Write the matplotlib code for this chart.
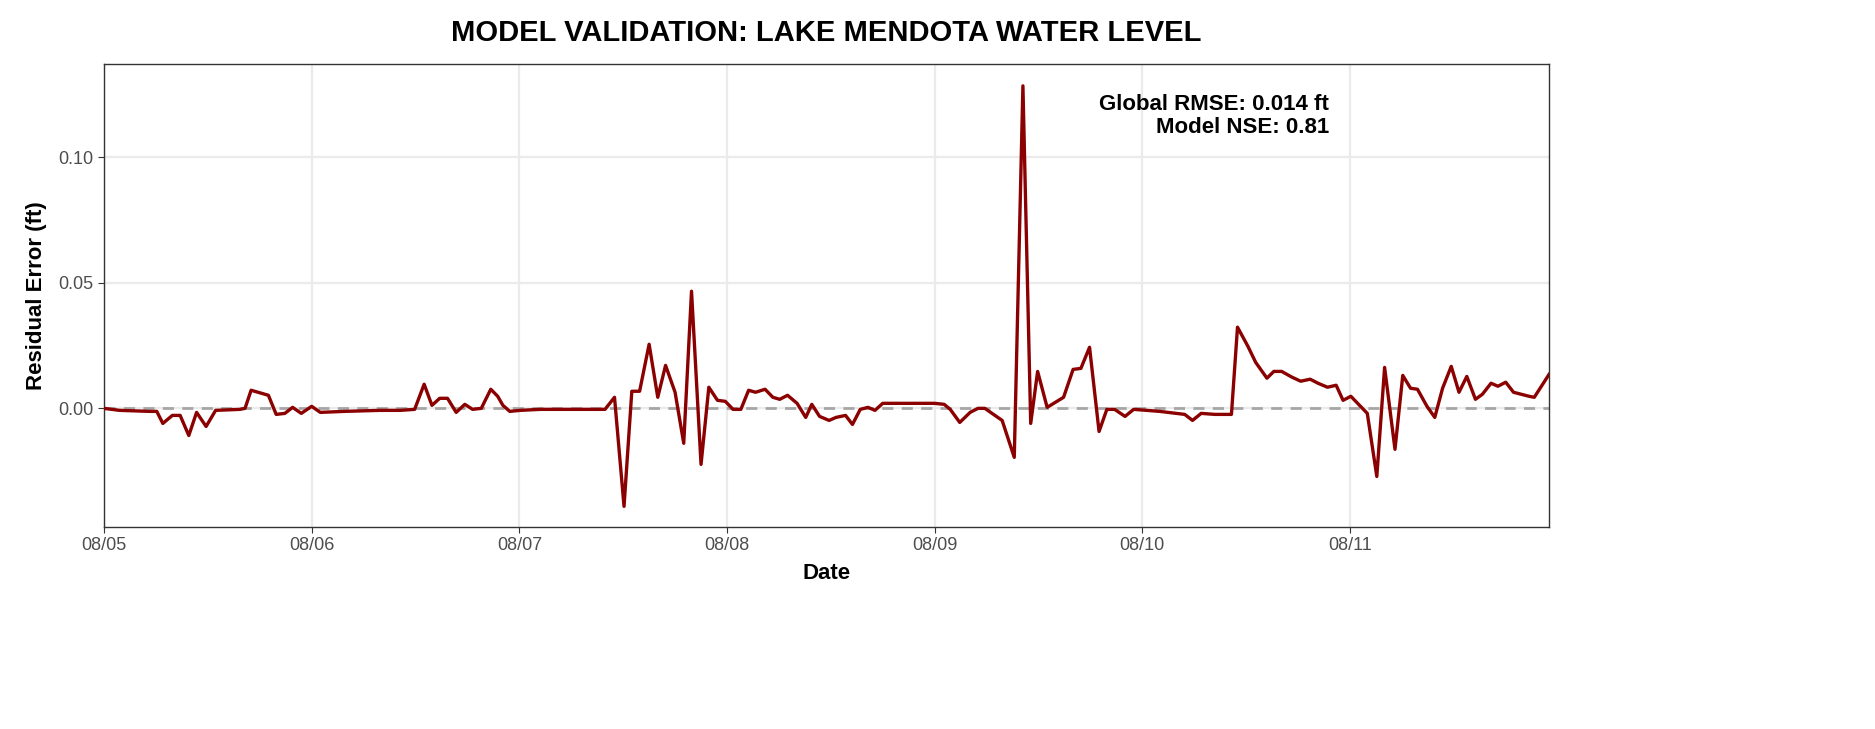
import matplotlib
matplotlib.use("Agg")
import matplotlib.pyplot as plt
import matplotlib.dates as mdates
import numpy as np
import pandas as pd

plt.rcParams['font.family'] = ['Liberation Sans', 'DejaVu Sans']

hours = [0,1.8,5.3,6.1,6.8,7.9,8.8,9.8,10.7,11.8,12.9,15.7,16.3,17.0,19.0,19.9,20.9,21.8,22.8,24.0,
25.0,27.8,31.9,34.2,35.9,37.0,37.9,38.8,39.7,40.7,41.7,42.6,43.6,44.7,45.5,46.1,46.9,48.1,50.4,55.0,
57.9,59.0,60.1,61.0,61.9,63.0,64.0,64.9,66.0,67.0,67.9,69.0,69.9,70.9,71.8,72.7,73.6,74.5,75.3,76.4,
77.3,78.1,79.0,80.1,81.1,81.8,82.7,83.8,84.6,85.7,86.5,87.4,88.3,89.1,90.0,90.9,92.0,93.1,94.9,96.0,
97.1,97.8,98.9,100.1,101.0,101.8,103.8,105.2,106.2,107.1,107.9,109.0,110.9,112.0,112.9,113.9,115.0,115.9,116.8,118.0,
119.0,122.0,124.9,125.8,126.8,128.4,130.3,131.0,132.2,133.1,134.4,135.2,136.1,137.3,138.3,139.4,140.3,141.4,142.4,143.2,
144.1,145.0,146.0,147.1,148.0,149.2,150.1,151.0,151.8,152.9,153.8,154.7,155.7,156.6,157.5,158.5,159.3,160.3,161.1,162.0,
162.9,164.7,165.3,167.0]
residual = [0,-0.0008,-0.0012,-0.0012,-0.006,-0.0028,-0.0028,-0.0108,-0.0016,-0.0072,-0.0008,-0.0004,0,0.0072,0.0052,-0.0024,-0.002,0.0004,-0.002,0.0008,
-0.0016,-0.0012,-0.0008,-0.0008,-0.0004,0.0096,0.0012,0.004,0.004,-0.0016,0.0016,-0.0004,0,0.0076,0.0048,0.0012,-0.0012,-0.0008,-0.0004,-0.0004,
-0.0004,0.0044,-0.039,0.0068,0.0068,0.0255,0.0044,0.0171,0.0064,-0.0139,0.0466,-0.0223,0.0084,0.0032,0.0028,-0.0004,-0.0004,0.0072,0.0064,0.0076,
0.0044,0.0036,0.0052,0.002,-0.0036,0.0016,-0.0032,-0.0048,-0.0036,-0.0028,-0.0064,-0.0004,0.0004,-0.0008,0.002,0.002,0.002,0.002,0.002,0.002,
0.0016,-0.0004,-0.0056,-0.0016,0,0,-0.0048,-0.0195,0.1283,-0.006,0.0147,0.0004,0.0044,0.0155,0.0159,0.0243,-0.0092,-0.0004,-0.0004,-0.0032,
-0.0004,-0.0012,-0.0024,-0.0048,-0.002,-0.0024,-0.0024,0.0323,0.0247,0.0183,0.012,0.0147,0.0147,0.0124,0.0108,0.0116,0.01,0.0084,0.0092,0.0032,
0.0048,0.0016,-0.002,-0.0271,0.0163,-0.0163,0.0131,0.008,0.0076,0.0008,-0.0036,0.008,0.0167,0.0064,0.0127,0.0036,0.0056,0.01,0.0088,0.0104,
0.0064,0.0048,0.0044,0.0135]

start = pd.Timestamp("2024-08-05")
t = start + pd.to_timedelta(hours, unit="h")

fig = plt.figure(figsize=(18.75, 7.29), dpi=100)
ax = fig.add_axes([104/1875, 1-527/729, (1549-104)/1875, (527-64)/729])
ax.plot(t, residual, color="#8B0000", lw=2.4, zorder=3)
ax.axhline(0, color="#A6A6A6", lw=2, ls=(0, (4, 3)), zorder=2)
ax.set_xlim(t[0], t[-1])
ax.set_ylim(-0.0472, 0.137)
ax.set_yticks([0.0, 0.05, 0.10])
ax.set_yticklabels(["0.00", "0.05", "0.10"])
ax.xaxis.set_major_locator(mdates.DayLocator())
ax.xaxis.set_major_formatter(mdates.DateFormatter("%m/%d"))
ax.grid(True, color="#EBEBEB", lw=1.6, zorder=0)
for s in ax.spines.values():
    s.set_color("#333333"); s.set_linewidth(1)
ax.tick_params(colors="#333333", labelcolor="#4D4D4D", labelsize=13, length=4)
ax.set_xlabel("Date", fontsize=16, fontweight="bold", labelpad=6)
ax.set_ylabel("Residual Error (ft)", fontsize=16, fontweight="bold", labelpad=8)
ax.text(0.848, 0.935, "Global RMSE: 0.014 ft\nModel NSE: 0.81", transform=ax.transAxes,
        ha="right", va="top", fontsize=16, fontweight="bold", linespacing=1.15)
fig.text((104+1549)/2/1875, 1-33/729, "MODEL VALIDATION: LAKE MENDOTA WATER LEVEL",
         ha="center", va="center", fontsize=21, fontweight="bold")
fig.savefig("out.png", dpi=100)
